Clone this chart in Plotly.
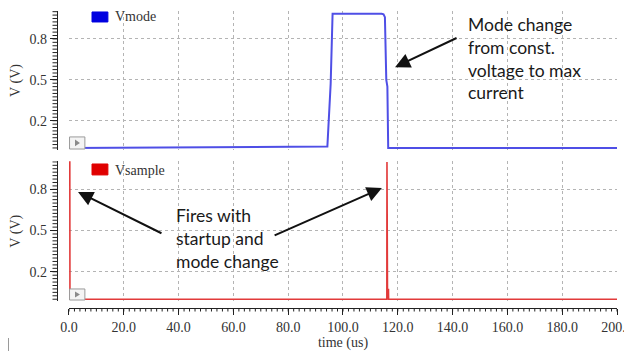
import plotly.graph_objects as go

# ---------------- data ----------------
t_mode = [0, 94.3, 95.5, 95.9, 96.2, 114.1, 114.8, 115.3, 115.8, 116.2, 116.5, 200]
v_mode = [0.0, 0.01, 0.47, 0.81, 0.985, 0.985, 0.98, 0.96, 0.50, 0.45, 0.0, 0.0]

t_sample = [0, 0.3, 0.35, 116.0, 116.05, 116.25, 116.3, 116.6, 116.65, 200]
v_sample = [1.0, 1.0, 0.0, 0.0, 1.0, 0.0, 0.07, 0.07, 0.0, 0.0]

# tick layout: labelled ticks every 20 us / 0.3 V, starting at these values
x_tick_start, x_tick_step, x_minor_step = 0, 20, 2
y_tick_start, y_tick_step, y_minor_step = 0.2, 0.3, 0.025
x_tick_format = ".1f"
y_tick_format = ".1f"

BLUE_LINE = "#4f4fe6"
RED_LINE = "#e23a3a"
SERIF = "Liberation Serif"
TXT = "#333333"
GRID = "#b4b4b4"
XR = [0, 200]
YR = [-0.015, 1.005]

fig = go.Figure()
fig.add_trace(go.Scatter(x=t_mode, y=v_mode, mode="lines", name="Vmode",
                         line=dict(color=BLUE_LINE, width=2), xaxis="x", yaxis="y",
                         showlegend=False))
fig.add_trace(go.Scatter(x=t_sample, y=v_sample, mode="lines", name="Vsample",
                         line=dict(color=RED_LINE, width=1.6), xaxis="x2", yaxis="y2",
                         showlegend=False))

xdom = [0.0214, 1.0]
yaxis_common = dict(
    anchor="free", position=0, range=YR,
    tickmode="linear", tick0=y_tick_start, dtick=y_tick_step, tickformat=y_tick_format,
    ticks="outside", ticklen=7, tickwidth=1, tickcolor="#222",
    showline=True, linecolor="#222", linewidth=1.2,
    showgrid=True, gridcolor=GRID, griddash="dot", gridwidth=1,
    zeroline=False, automargin=False,
    tickfont=dict(family=SERIF, size=14, color=TXT),
    title=dict(text="V (V)", font=dict(family=SERIF, size=14, color=TXT), standoff=8),
    fixedrange=True,
)

fig.update_layout(
    width=632, height=351,
    margin=dict(l=49, r=23, t=3, b=51, autoexpand=False),
    paper_bgcolor="white", plot_bgcolor="white",
    xaxis=dict(domain=xdom, anchor="y", range=XR, automargin=False,
               tickmode="linear", tick0=x_tick_start, dtick=x_tick_step,
               showticklabels=False, ticks="",
               showline=False, zeroline=False,
               showgrid=True, gridcolor=GRID, griddash="dot", gridwidth=1),
    xaxis2=dict(domain=xdom, anchor="free", position=0, range=XR, automargin=False,
                tickmode="linear", tick0=x_tick_start, dtick=x_tick_step,
                tickformat=x_tick_format,
                ticks="outside", ticklen=6, tickwidth=1, tickcolor="#222",
                showline=True, linecolor="#222", linewidth=1.2, zeroline=False,
                showgrid=True, gridcolor=GRID, griddash="dot", gridwidth=1,
                ticklabeloverflow="allow",
                tickfont=dict(family=SERIF, size=14, color=TXT),
                title=dict(text="time (us)", font=dict(family=SERIF, size=14, color=TXT),
                           standoff=2)),
    yaxis=dict(domain=[0.532, 1.0], **yaxis_common),
    yaxis2=dict(domain=[0.0226, 0.4943], **yaxis_common),
    showlegend=False,
)

# fine tick combs along the axes (decoration of the axes)
PLOT_W, PLOT_H = 560, 297
n_xm = int(round((XR[1] - XR[0]) / x_minor_step))
for i in range(n_xm + 1):
    xv = XR[0] + i * x_minor_step
    fig.add_shape(type="line", xref="x2", yref="paper", x0=xv, x1=xv,
                  y0=0, y1=-3.5 / PLOT_H, line=dict(color="#222", width=1))
n_ym = int(YR[1] / y_minor_step + 1e-9)
for yref in ("y", "y2"):
    for i in range(n_ym + 1):
        yv = i * y_minor_step
        fig.add_shape(type="line", xref="paper", yref=yref, x0=0, x1=-4.5 / PLOT_W,
                      y0=yv, y1=yv, line=dict(color="#222", width=1))

# legend-like keys and small play boxes
for xr, yr, col, name, ysq, ytxt, ybox in [
    ("x domain", "y domain", "#0000e0", "Vmode", (0.921, 0.993), 0.964, (0.007, 0.094)),
    ("x2 domain", "y2 domain", "#e00000", "Vsample", (0.902, 0.980), 0.937, (0.009, 0.088)),
]:
    fig.add_shape(type="rect", xref=xr, yref=yr, x0=0.042, x1=0.071, y0=ysq[0], y1=ysq[1],
                  fillcolor=col, line=dict(color=col, width=1))
    fig.add_annotation(xref=xr, yref=yr, x=0.080, y=ytxt, text=name, showarrow=False,
                       xanchor="left", yanchor="middle",
                       font=dict(family=SERIF, size=14, color=TXT))
    fig.add_shape(type="rect", xref=xr, yref=yr, x0=0.001, x1=0.029, y0=ybox[0], y1=ybox[1],
                  fillcolor="#f4f4f4", line=dict(color="#9a9a9a", width=1))
    ym = (ybox[0] + ybox[1]) / 2
    dy = (ybox[1] - ybox[0]) * 0.28
    fig.add_shape(type="path", xref=xr, yref=yr,
                  path=f"M 0.011 {ym - dy} L 0.011 {ym + dy} L 0.02 {ym} Z",
                  fillcolor="#8a8a8a", line=dict(width=0))

# text annotations
ANN = dict(family="Lato", size=17.5, color="#1a1a1a")
fig.add_annotation(xref="x", yref="y", x=145.0, y=1.0, xanchor="left", yanchor="top",
                   align="left", showarrow=False,
                   text="Mode change<br>from const.<br>voltage to max<br>current", font=ANN)
fig.add_annotation(xref="x2", yref="y2", x=38.5, y=0.70, xanchor="left", yanchor="top",
                   align="left", showarrow=False,
                   text="Fires with<br>startup and<br>mode change", font=ANN)

# arrows
ARW = dict(showarrow=True, arrowhead=2, arrowsize=1.5, arrowwidth=2, arrowcolor="#111", text="")
fig.add_annotation(xref="x", yref="y", x=119.0, y=0.593, axref="x", ayref="y",
                   ax=142.0, ay=0.812, **ARW)
fig.add_annotation(xref="x2", yref="y2", x=3.3, y=0.781, axref="x2", ayref="y2",
                   ax=34.3, ay=0.475, **ARW)
fig.add_annotation(xref="x2", yref="y2", x=114.2, y=0.81, axref="x2", ayref="y2",
                   ax=74.5, ay=0.46, **ARW)

# small artifact mark bottom-left
fig.add_shape(type="line", xref="paper", yref="paper", x0=-0.0866, x1=-0.0866,
              y0=-0.101, y1=-0.145, line=dict(color="#9a9a9a", width=1))

fig.write_html("out.html")
